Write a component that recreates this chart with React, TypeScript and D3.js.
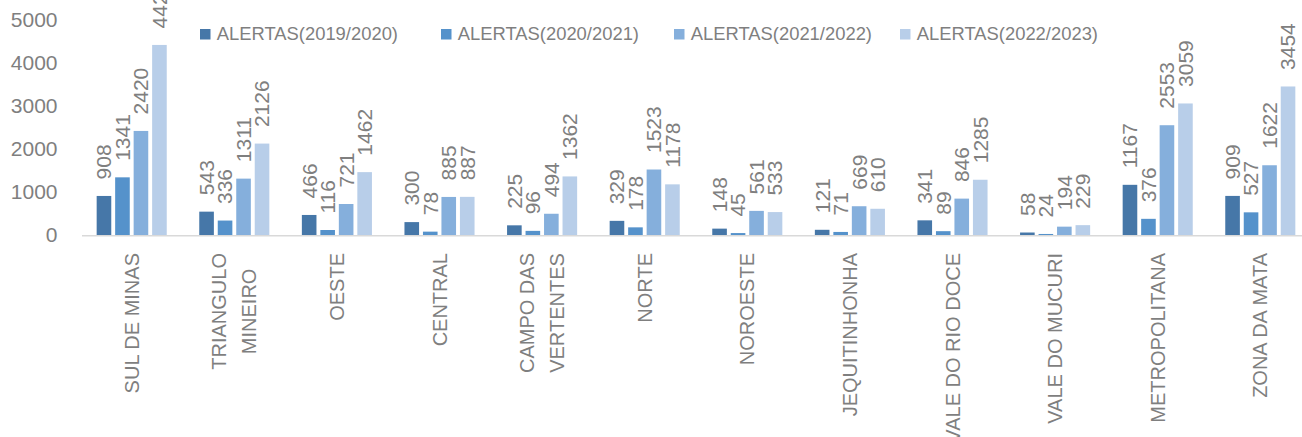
import React, { useEffect, useRef } from "react";
import * as d3 from "d3";

const categories = [
  "SUL DE MINAS",
  "TRIANGULO\nMINEIRO",
  "OESTE",
  "CENTRAL",
  "CAMPO DAS\nVERTENTES",
  "NORTE",
  "NOROESTE",
  "JEQUITINHONHA",
  "VALE DO RIO DOCE",
  "VALE DO MUCURI",
  "METROPOLITANA",
  "ZONA DA MATA",
];

const seriesNames = [
  "ALERTAS(2019/2020)",
  "ALERTAS(2020/2021)",
  "ALERTAS(2021/2022)",
  "ALERTAS(2022/2023)",
];

const alertas2019 = [908, 543, 466, 300, 225, 329, 148, 121, 341, 58, 1167, 909];
const alertas2020 = [1341, 336, 116, 78, 96, 178, 45, 71, 89, 24, 376, 527];
const alertas2021 = [2420, 1311, 721, 885, 494, 1523, 561, 669, 846, 194, 2553, 1622];
const alertas2022 = [4420, 2126, 1462, 887, 1362, 1178, 533, 610, 1285, 229, 3059, 3454];

const yTicks = [0, 1000, 2000, 3000, 4000, 5000];

const colors = ["#4677A8", "#5592CB", "#85AFDC", "#B8CEE9"];

const W = 1302;
const H = 437;
const FONT = "'Liberation Sans', Arial, sans-serif";
const TEXT = "#7f7f7f";

export default function App() {
  const ref = useRef<SVGSVGElement | null>(null);

  useEffect(() => {
    const svg = d3.select(ref.current);
    svg.selectAll("*").remove();

    const series = [alertas2019, alertas2020, alertas2021, alertas2022];

    const plotLeft = 80.4;
    const step = 102.6;
    const x0 = d3
      .scaleBand<string>()
      .domain(categories)
      .range([plotLeft, plotLeft + step * categories.length])
      .paddingInner(0.317)
      .paddingOuter(0.1585);
    const x1 = d3
      .scaleBand<string>()
      .domain(seriesNames)
      .range([0, x0.bandwidth()])
      .paddingInner(0.21)
      .paddingOuter(0);
    const y = d3.scaleLinear().domain([0, 5000]).range([235, 20]);

    svg.append("rect").attr("width", W).attr("height", H).attr("fill", "#ffffff");

    // y tick labels
    svg
      .append("g")
      .selectAll("text")
      .data(yTicks)
      .join("text")
      .attr("x", 57.5)
      .attr("y", (d) => y(d))
      .attr("dy", "0.35em")
      .attr("text-anchor", "end")
      .attr("font-family", FONT)
      .attr("font-size", 21)
      .attr("fill", TEXT)
      .text((d) => String(d));

    // bars
    const groups = svg
      .append("g")
      .selectAll("g")
      .data(categories)
      .join("g")
      .attr("transform", (c) => `translate(${x0(c)},0)`);

    groups.each(function (c, ci) {
      const g = d3.select(this);
      seriesNames.forEach((s, si) => {
        const v = series[si][ci];
        const bx = x1(s)!;
        g.append("rect")
          .attr("x", bx)
          .attr("y", y(v))
          .attr("width", x1.bandwidth())
          .attr("height", y(0) - y(v))
          .attr("fill", colors[si]);
        const cx = bx + x1.bandwidth() / 2;
        const ty = y(v) - 16.5;
        g.append("text")
          .attr("transform", `translate(${cx},${ty}) rotate(-90)`)
          .attr("dy", "0.35em")
          .attr("text-anchor", "start")
          .attr("font-family", FONT)
          .attr("font-size", 21)
          .attr("fill", TEXT)
          .text(String(v));
      });
    });

    // axis line
    svg
      .append("line")
      .attr("x1", 82)
      .attr("x2", W)
      .attr("y1", 235.75)
      .attr("y2", 235.75)
      .attr("stroke", "#d9d9d9")
      .attr("stroke-width", 1.6);

    // category labels
    const labelTop = 253;
    const catG = svg.append("g");
    categories.forEach((c) => {
      const lines = c.split("\n");
      const cx = x0(c)! + x0.bandwidth() / 2;
      const g = catG
        .append("g")
        .attr("transform", `translate(${cx},${labelTop}) rotate(-90)`);
      const texts = lines.map((ln, i) =>
        g
          .append("text")
          .attr("y", (i - (lines.length - 1) / 2) * 30)
          .attr("dy", "0.35em")
          .attr("font-family", FONT)
          .attr("font-size", 20)
          .attr("fill", TEXT)
          .text(ln)
      );
      const lens = texts.map((t) => (t.node() as SVGTextElement).getComputedTextLength());
      const maxLen = d3.max(lens) || 0;
      texts.forEach((t) => t.attr("text-anchor", "middle").attr("x", -maxLen / 2));
    });

    // legend
    const legendX = [200, 441, 674, 900];
    const lg = svg.append("g");
    seriesNames.forEach((s, i) => {
      lg.append("rect")
        .attr("x", legendX[i])
        .attr("y", 29)
        .attr("width", 10.5)
        .attr("height", 10.5)
        .attr("fill", colors[i]);
      lg.append("text")
        .attr("x", legendX[i] + 16.7)
        .attr("y", 34)
        .attr("dy", "0.35em")
        .attr("font-family", FONT)
        .attr("font-size", 18.4)
        .attr("fill", TEXT)
        .text(s);
    });
  }, []);

  return (
    <svg
      ref={ref}
      width={W}
      height={H}
      style={{ position: "absolute", left: 0, top: 0, display: "block" }}
    />
  );
}
